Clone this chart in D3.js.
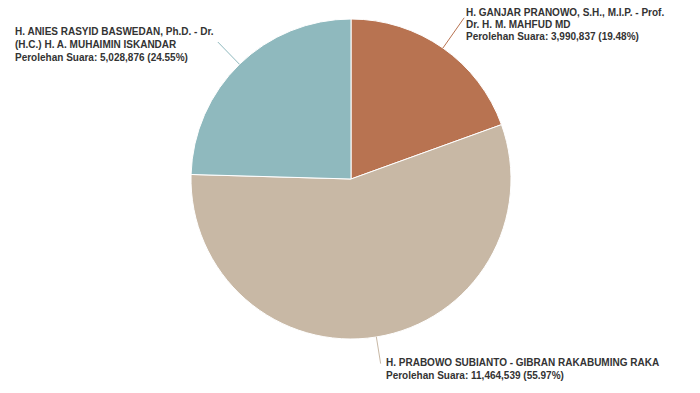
<!DOCTYPE html>
<html>
<head>
<meta charset="utf-8">
<script src="https://cdn.jsdelivr.net/npm/d3@7"></script>
<style>
  body { margin: 0; background: #fff; }
  text { font-family: "Liberation Sans", Arial, sans-serif; font-size: 10px; font-weight: bold; fill: #333; }
</style>
</head>
<body>
<div class="chart"></div>
<script>
const names = [
  ['H. GANJAR PRANOWO, S.H., M.I.P. - Prof.', 'Dr. H. M. MAHFUD MD'],
  ['H. PRABOWO SUBIANTO - GIBRAN RAKABUMING RAKA'],
  ['H. ANIES RASYID BASWEDAN, Ph.D. - Dr.', '(H.C.) H. A. MUHAIMIN ISKANDAR']
];
const votes = [3990837, 11464539, 5028876];
const percents = ['19.48%', '55.97%', '24.55%'];
const colors = ['#b87351', '#c8b8a5', '#8fb9be'];

const w = 700;
const h = 393;
const cx = 351, cy = 179, r = 160;

const svg = d3.select('.chart')
  .append('svg')
  .attr('width', w)
  .attr('height', h);

const pie = d3.pie().sort(null)(votes);
const arc = d3.arc().innerRadius(0).outerRadius(r);

const g = svg.append('g').attr('transform', `translate(${cx},${cy})`);

g.selectAll('path')
  .data(pie)
  .enter()
  .append('path')
  .attr('d', arc)
  .attr('fill', (d, i) => colors[i])
  .attr('stroke', '#fff')
  .attr('stroke-width', 1);

// connector length, label x, first baseline, line height
const labelPos = [
  { len: 37, tx: 466, ty: 16, lh: 12 },
  { len: 27, tx: 386, ty: 366, lh: 13 },
  { len: 31, tx: 15, ty: 35, lh: 13 }
];

pie.forEach((d, i) => {
  const a = (d.startAngle + d.endAngle) / 2;
  const p = labelPos[i];
  const x0 = Math.sin(a) * r, y0 = -Math.cos(a) * r;
  const x1 = Math.sin(a) * (r + p.len), y1 = -Math.cos(a) * (r + p.len);
  g.append('line')
    .attr('x1', x0).attr('y1', y0)
    .attr('x2', x1).attr('y2', y1)
    .attr('stroke', colors[i])
    .attr('stroke-width', 1);

  const lines = names[i].concat([`Perolehan Suara: ${d3.format(',')(votes[i])} (${percents[i]})`]);
  const t = svg.append('text').attr('x', p.tx).attr('y', p.ty);
  lines.forEach((s, j) => {
    t.append('tspan').attr('x', p.tx).attr('y', p.ty + j * p.lh).text(s);
  });
});
</script>
</body>
</html>
